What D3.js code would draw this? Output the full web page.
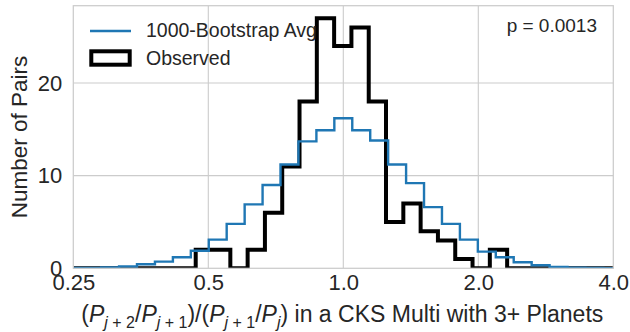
<!DOCTYPE html>
<html>
<head>
<meta charset="utf-8">
<script src="https://cdn.jsdelivr.net/npm/d3@7"></script>
<style>
  body { margin: 0; background: #fff; }
  text { font-family: "Liberation Sans", Arial, sans-serif; fill: #262626; }
</style>
</head>
<body>
<div id="chart"></div>
<script>
// bootstrap average: bin edges (log-spaced) and mean counts
const bootEdges = [0.2399, 0.2630, 0.2884, 0.3162, 0.3467, 0.3802, 0.4169, 0.4571,
    0.5012, 0.5495, 0.6026, 0.6607, 0.7244, 0.7943, 0.8710, 0.9550,
    1.0471, 1.1482, 1.2589, 1.3804, 1.5136, 1.6596, 1.8197, 1.9953,
    2.1878, 2.3988, 2.6303, 2.8840, 3.1623, 3.4674, 3.8019, 4.1687];
const bootCounts = [0.03, 0.04, 0.08, 0.2, 0.43, 0.72, 1.2, 1.9, 3.1, 4.8, 6.9, 9.0,
    11.2, 13.7, 14.9, 16.2, 14.9, 13.8, 11.2, 9.2, 6.6, 4.8, 3.1, 1.8, 1.2,
    0.65, 0.33, 0.14, 0.06, 0.03, 0.02];

// observed: bin edges and counts
const obsEdges = [0.2302, 0.2516, 0.2750, 0.3006, 0.3285, 0.3590, 0.3924, 0.4289,
    0.4687, 0.5123, 0.5599, 0.6119, 0.6687, 0.7308, 0.7987, 0.8729, 0.9540,
    1.0426, 1.1395, 1.2453, 1.3610, 1.4874, 1.6256, 1.7766, 1.9417, 2.1220,
    2.3192, 2.5346, 2.7701, 3.0274, 3.3086, 3.6160, 3.9519, 4.3190];
const obsCounts = [0, 0, 0, 0, 0, 0, 0, 0,
    2, 2, 0, 2, 6, 11, 18, 27, 24, 26, 18, 5, 7, 4, 3, 1, 0, 2,
    0, 0, 0, 0, 0, 0, 0];

const xTicks = [0.25, 0.5, 1.0, 2.0, 4.0];
const xTickLabels = ["0.25", "0.5", "1.0", "2.0", "4.0"];
const yTicks = [0, 10, 20];
const legendLabels = ["1000-Bootstrap Avg", "Observed"];
const pText = "p = 0.0013";

const margin = { top: 5.7, right: 16.7, bottom: 63.7, left: 73.3 };
const width = 630 - margin.left - margin.right;
const height = 332 - margin.top - margin.bottom;

const svg = d3.select("#chart").append("svg")
    .attr("width", 630)
    .attr("height", 332);

const g = svg.append("g")
    .attr("transform", `translate(${margin.left},${margin.top})`);

const x = d3.scaleLog().domain([0.25, 4]).range([0, width]);
const y = d3.scaleLinear().domain([0, 28.35]).range([height, 0]);

g.append("defs").append("clipPath").attr("id", "clip")
    .append("rect").attr("width", width).attr("height", height);

// grid
g.append("g").selectAll("line").data(xTicks.slice(1, -1)).join("line")
    .attr("x1", d => x(d)).attr("x2", d => x(d))
    .attr("y1", 0).attr("y2", height)
    .attr("stroke", "#cccccc").attr("stroke-width", 1.1);
g.append("g").selectAll("line").data(yTicks.slice(1)).join("line")
    .attr("x1", 0).attr("x2", width)
    .attr("y1", d => y(d)).attr("y2", d => y(d))
    .attr("stroke", "#cccccc").attr("stroke-width", 1.1);

// step histogram outline
function stepPoints(edges, counts) {
    const pts = [[edges[0], 0]];
    counts.forEach((c, i) => {
        pts.push([edges[i], c]);
        pts.push([edges[i + 1], c]);
    });
    pts.push([edges[edges.length - 1], 0]);
    return pts;
}
const line = d3.line().x(d => x(d[0])).y(d => y(d[1]));

const plot = g.append("g").attr("clip-path", "url(#clip)");
plot.append("path")
    .datum(stepPoints(obsEdges, obsCounts))
    .attr("fill", "none")
    .attr("stroke", "black")
    .attr("stroke-width", 4)
    .attr("stroke-linejoin", "miter")
    .attr("d", line);
plot.append("path")
    .datum(stepPoints(bootEdges, bootCounts))
    .attr("fill", "none")
    .attr("stroke", "#1f77b4")
    .attr("stroke-width", 2.4)
    .attr("d", line);

// frame
g.append("rect")
    .attr("width", width).attr("height", height)
    .attr("fill", "none").attr("stroke", "#cccccc").attr("stroke-width", 1.25);

// axes
const xAxis = g.append("g")
    .attr("transform", `translate(0,${height})`)
    .call(d3.axisBottom(x).tickValues(xTicks)
        .tickFormat((d, i) => xTickLabels[i]).tickSize(0).tickPadding(6));
const yAxis = g.append("g")
    .call(d3.axisLeft(y).tickValues(yTicks).tickSize(0).tickPadding(11));
[xAxis, yAxis].forEach(a => {
    a.select(".domain").remove();
    a.selectAll("text").attr("font-size", 22)
        .attr("font-family", "'Liberation Sans', Arial, sans-serif")
        .attr("fill", "#262626");
});

// y label
svg.append("text")
    .attr("transform", `translate(27,${margin.top + height / 2}) rotate(-90)`)
    .attr("text-anchor", "middle")
    .attr("font-size", 22.5)
    .text("Number of Pairs");

// x label with math
const xl = svg.append("text")
    .attr("x", margin.left + width / 2 - 1)
    .attr("y", 322)
    .attr("text-anchor", "middle")
    .attr("font-size", 23);
const parts = [
    ["(", "n"], ["P", "i"], ["j", "si"], [" + 2", "s"], ["/", "n"], ["P", "i"], ["j", "si"], [" + 1", "s"],
    [")/(", "n"], ["P", "i"], ["j", "si"], [" + 1", "s"], ["/", "n"], ["P", "i"], ["j", "si"],
    [") in a CKS Multi with 3+ Planets", "n"]
];
let inSub = false;
parts.forEach(([t, k]) => {
    const ts = xl.append("tspan").text(t);
    const sub = k === "s" || k === "si";
    if (k === "i" || k === "si") ts.attr("font-style", "italic");
    if (sub) ts.attr("font-size", 16);
    if (sub && !inSub) ts.attr("dy", 5.5);
    if (!sub && inSub) ts.attr("dy", -5.5);
    inSub = sub;
});

// legend
const lg = g.append("g");
lg.append("line")
    .attr("x1", 90 - margin.left).attr("x2", 131 - margin.left)
    .attr("y1", 31 - margin.top).attr("y2", 31 - margin.top)
    .attr("stroke", "#1f77b4").attr("stroke-width", 2.4);
lg.append("rect")
    .attr("x", 91.3 - margin.left).attr("y", 51.3 - margin.top)
    .attr("width", 38.4).attr("height", 13.4)
    .attr("fill", "none").attr("stroke", "black").attr("stroke-width", 4);
lg.selectAll("text.lab").data(legendLabels).join("text")
    .attr("class", "lab")
    .attr("x", 146 - margin.left)
    .attr("y", (d, i) => (i === 0 ? 37.5 : 65) - margin.top)
    .attr("font-size", 19.5)
    .text(d => d);

// p-value annotation
g.append("text")
    .attr("x", 597 - margin.left)
    .attr("y", 32.3 - margin.top)
    .attr("text-anchor", "end")
    .attr("font-size", 19)
    .text(pText);
</script>
</body>
</html>
